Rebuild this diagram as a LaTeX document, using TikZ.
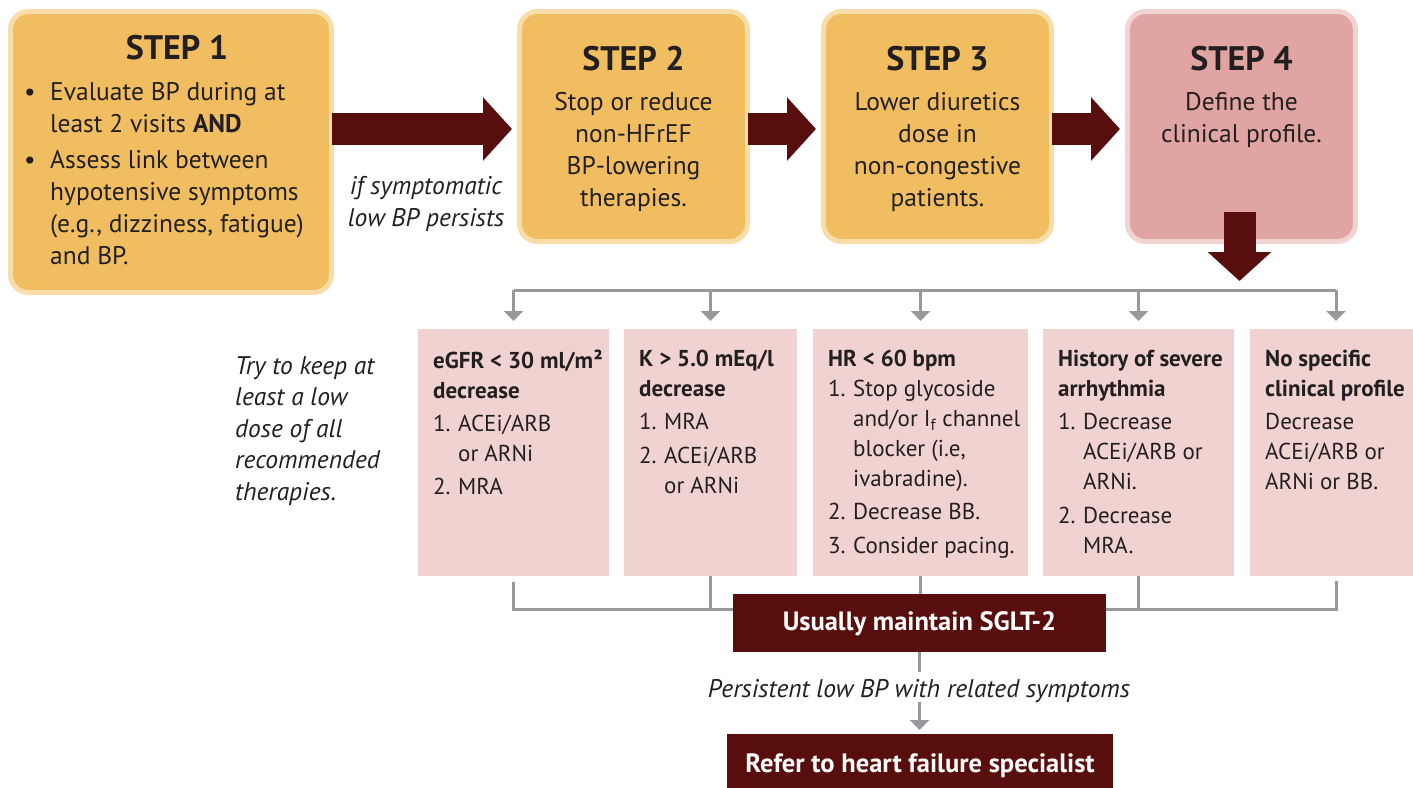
\documentclass[tikz,border=0pt]{standalone}
\usepackage{fontspec}
\setmainfont{PT Sans}
\usetikzlibrary{arrows.meta,calc}
\definecolor{gold}{HTML}{F0BE60}
\definecolor{goldedge}{HTML}{F9DCA8}
\definecolor{rose}{HTML}{E0A4A2}
\definecolor{roseedge}{HTML}{F1D4D2}
\definecolor{pinkbox}{HTML}{F0D3D0}
\definecolor{maroon}{HTML}{590E0E}
\definecolor{gline}{HTML}{98999C}
\definecolor{ink}{HTML}{231F20}
\newcommand{\itm}[1]{\makebox[25pt][l]{#1}}
\newcommand{\ind}{\hspace*{25pt}}
\begin{document}
\begin{tikzpicture}[x=1pt,y=1pt,
  stepbox/.style={rounded corners=18pt, line width=5pt, inner sep=0pt, outer sep=0pt, anchor=north west, minimum height=230pt, minimum width=228pt},
  goldbox/.style={stepbox, fill=gold, draw=goldedge},
  rosebox/.style={stepbox, fill=rose, draw=roseedge},
  steptitle/.style={font=\fontsize{34}{40}\selectfont\bfseries, text=ink, anchor=base, inner sep=0pt},
  stepbody/.style={font=\fontsize{25.5}{32}\selectfont, text=ink, align=center, anchor=north, inner sep=0pt, execute at begin node=\strut},
  pbox/.style={fill=pinkbox, inner sep=0pt, outer sep=0pt, anchor=north west, minimum height=247pt},
  ptext/.style={font=\fontsize{23}{30}\selectfont, text=ink, align=left, anchor=north west, inner sep=0pt, execute at begin node=\strut},
  note/.style={font=\fontsize{25.5}{31.5}\selectfont\itshape, text=ink, inner sep=0pt},
  darkbox/.style={fill=maroon, text=white, inner sep=0pt, outer sep=0pt, font=\fontsize{26.5}{30}\selectfont\bfseries},
  bigarrow/.style={line width=32pt, draw=maroon, -{Triangle[length=29pt,width=62pt]}},
  gl/.style={draw=gline, line width=3pt},
  gtip/.style={gl, -{Triangle[length=10pt,width=19pt]}}
]
\useasboundingbox (0,0) rectangle (1413,-787);

% step boxes
\node[goldbox, minimum width=321pt, minimum height=281pt] (s1) at (10.5,-11.5) {};
\node[goldbox] (s2) at (519.5,-11.5) {};
\node[goldbox] (s3) at (823.5,-11.5) {};
\node[rosebox] (s4) at (1127.5,-11.5) {};

\node[steptitle] (t1) at ($(s1.north)+(6,-47.5)$) {STEP 1};
\node[steptitle] (t2) at ($(s2.north)+(0,-58.5)$) {STEP 2};
\node[steptitle] (t3) at ($(s3.north)+(0,-58.5)$) {STEP 3};
\node[steptitle] (t4) at ($(s4.north)+(0,-58.5)$) {STEP 4};

\node[stepbody, align=left, anchor=north west] (x1) at (24,-82)
 {\makebox[26pt][l]{\textbullet}Evaluate BP during at\\
  \hspace*{26pt}least 2 visits \textbf{AND}\\[4pt]
  \makebox[26pt][l]{\textbullet}Assess link between\\
  \hspace*{26pt}hypotensive symptoms\\
  \hspace*{26pt}(e.g., dizziness, fatigue)\\
  \hspace*{26pt}and BP.};
\node[stepbody] (x2) at ($(s2.north)+(0,-81.1)$) {Stop or reduce\\non-HFrEF\\BP-lowering\\therapies.};
\node[stepbody] (x3) at ($(s3.north)+(0,-81.1)$) {Lower diuretics\\dose in\\non-congestive\\patients.};
\node[stepbody] (x4) at ($(s4.north)+(0,-81.1)$) {Define the\\clinical profile.};

% big arrows
\coordinate (ay) at (0,-129);
\draw[bigarrow] (s1.east |- ay) -- ($(s2.west |- ay)+(-7.5,0)$);
\draw[bigarrow] (s2.east |- ay) -- ($(s3.west |- ay)+(-7.5,0)$);
\draw[bigarrow] (s3.east |- ay) -- ($(s4.west |- ay)+(-7.5,0)$);
\draw[bigarrow] ($(s4.south)+(-2,29.5)$) -- ($(s4.south)+(-2,-39.5)$);

\node[note, align=center, anchor=north, font=\fontsize{25.5}{32}\selectfont\itshape, execute at begin node=\strut] (ifs) at (426,-176.6) {if symptomatic\\low BP persists};

% pink boxes
\node[pbox, minimum width=191pt] (b1) at (418,-329) {};
\node[pbox, minimum width=173pt] (b2) at (624,-329) {};
\node[pbox, minimum width=215pt] (b3) at (813,-329) {};
\node[pbox, minimum width=191pt] (b4) at (1043,-329) {};
\node[pbox, minimum width=173pt] (b5) at (1250,-329) {};

\node[ptext] (p1) at (433,-350) {\textbf{eGFR < 30 ml/m²}\\\textbf{decrease}\\[3pt]
  \itm{1.}ACEi/ARB\\\ind or ARNi\\[3pt]\itm{2.}MRA};
\node[ptext] (p2) at (639,-350) {\textbf{K > 5.0 mEq/l}\\\textbf{decrease}\\[3pt]
  \itm{1.}MRA\\[4pt]\itm{2.}ACEi/ARB\\\ind or ARNi};
\node[ptext] (p3) at (828,-350) {\textbf{HR < 60 bpm}\\
  \itm{1.}Stop glycoside\\\ind and/or I\textsubscript{f} channel\\\ind blocker (i.e,\\\ind ivabradine).\\[3pt]
  \itm{2.}Decrease BB.\\[4pt]\itm{3.}Consider pacing.};
\node[ptext] (p4) at (1058,-350) {\textbf{History of severe}\\\textbf{arrhythmia}\\[3pt]
  \itm{1.}Decrease\\\ind ACEi/ARB or\\\ind ARNi.\\[4pt]\itm{2.}Decrease\\\ind MRA.};
\node[ptext] (p5) at (1265,-350) {\textbf{No specific}\\\textbf{clinical profile}\\[3pt]
  Decrease\\ACEi/ARB or\\ARNi or BB.};

\node[note, align=left, anchor=north west, execute at begin node=\strut] (keep) at (235,-356)
  {Try to keep at\\least a low\\dose of all\\recommended\\therapies.};

% gray connectors (top)
\coordinate (hl) at (0,-290);
\coordinate (t5) at (1336,-290);
\draw[gl] (b1.north |- hl) -- (t5);
\draw[gtip, shorten >=8pt] (b1.north |- hl) -- (b1.north);
\draw[gtip, shorten >=8pt] (b2.north |- hl) -- (b2.north);
\draw[gtip, shorten >=8pt] (b3.north |- hl) -- (b3.north);
\draw[gtip, shorten >=8pt] (b4.north |- hl) -- (b4.north);
\draw[gtip, shorten >=8pt] (t5) -- (t5 |- b5.north);

% gray connectors (bottom)
\coordinate (hb) at (0,-609);
\coordinate (e5) at (1336,-581);
\draw[gl] ([yshift=-6pt]b1.south) -- (b1.south |- hb) -- (e5 |- hb) -- (e5);
\draw[gl] (b2.south) -- (b2.south |- hb);
\draw[gl] (b3.south) -- (b3.south |- hb);
\draw[gl] (b4.south) -- (b4.south |- hb);

% bottom boxes
\node[darkbox, minimum width=373pt, minimum height=58pt, text depth=4pt] (sg) at (919.5,-623) {Usually maintain SGLT-2};
\node[darkbox, minimum width=386pt, minimum height=64pt] (rf) at (920,-766) {Refer to heart failure specialist};
\draw[gtip, shorten >=4pt] (sg.south) -- (sg.south |- rf.north);
\node[fill=white, font=\fontsize{25.5}{30}\selectfont\itshape, text=ink, anchor=base, text height=20pt, text depth=0pt, inner xsep=4pt, inner ysep=5pt] (pl) at (919,-697) {Persistent low BP with related symptoms};
\end{tikzpicture}
\end{document}
